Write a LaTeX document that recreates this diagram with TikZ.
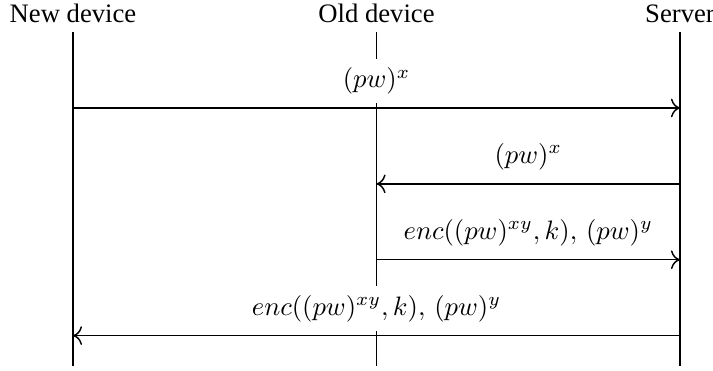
\documentclass[tikz,border=0pt]{standalone}
\usepackage{fontspec}
\setmainfont{Liberation Serif}
\usetikzlibrary{arrows.meta,positioning}

\begin{document}
\begin{tikzpicture}[
  party/.style={
    anchor=south
  },
  lifeline/.style={
    draw=black,
    line width=0.7pt
  },
  message/.style={
    -{To[length=3.4pt,width=7pt]},
    draw=black,
    line width=0.55pt
  },
  msg label/.style={
    fill=white,
    above=1.5pt
  }
]

\useasboundingbox (-0.962,0.423) rectangle (8.435,-4.465);

\node[party] (new) at (0,0) {New device};
\node[party] (old) at (4,0) {Old device};
\node[party] (server) at (8,0) {Server};

\coordinate (new-end) at (0,-4.4);
\coordinate (old-end) at (4,-4.4);
\coordinate (server-end) at (8,-4.4);

\draw[lifeline] (new.south) -- (new-end);
\draw[lifeline] (old.south) -- (old-end);
\draw[lifeline] (server.south) -- (server-end);

\coordinate (new-1) at (0,-1);
\coordinate (server-1) at (8,-1);
\coordinate (server-2) at (8,-2);
\coordinate (old-2) at (4,-2);
\coordinate (old-3) at (4,-3);
\coordinate (server-3) at (8,-3);
\coordinate (server-4) at (8,-4);
\coordinate (new-4) at (0,-4);

\draw[message] (new-1) -- node[msg label] (hash-up) {$(pw)^x$} (server-1);
\draw[message] (server-2) -- node[msg label] (hash-fwd) {$(pw)^x$} (old-2);
\draw[message] (old-3) -- node[msg label] (enc-up) {$enc((pw)^{xy},k),\,(pw)^y$} (server-3);
\draw[message] (server-4) -- node[msg label] (enc-fwd) {$enc((pw)^{xy},k),\,(pw)^y$} (new-4);

\end{tikzpicture}
\end{document}
